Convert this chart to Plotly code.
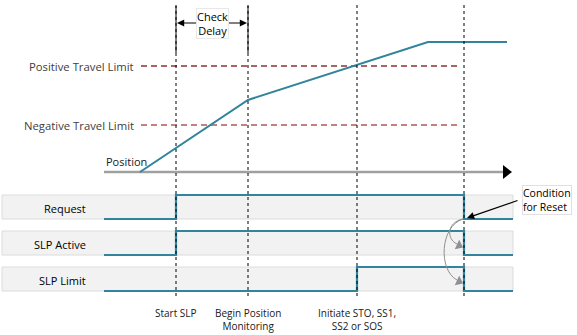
import plotly.graph_objects as go

# ---- data (diagram coordinates: x = time units, y = vertical position in the drawing) ----
event_times = [176, 248, 357, 464]
event_labels = ["Start SLP", "Begin Position<br>Monitoring", "Initiate STO, SS1,<br>SS2 or SOS", ""]

position_t = [140, 248, 428, 507]
position_v = [172, 100, 42, 42]

limit_names = ["Positive Travel Limit", "Negative Travel Limit"]
limit_levels = [66, 125]
limit_colors = ["#8A3331", "#B05A56"]

signal_names = ["Request", "SLP Active", "SLP Limit"]
signal_top = [195, 231, 267]
signal_times = [
    [104, 176, 176, 464, 464, 513],
    [104, 176, 176, 464, 464, 513],
    [104, 357, 357, 464, 464, 513],
]
signal_levels = [
    [0, 0, 1, 1, 0, 0],
    [0, 0, 1, 1, 0, 0],
    [0, 0, 1, 1, 0, 0],
]
band_height = 24

TEAL = "#31849B"
FONT = "Open Sans"

fig = go.Figure()
shapes = []
annotations = []

# signal bands
for top in signal_top:
    shapes.append(dict(type="rect", x0=2, x1=513, y0=top, y1=top + band_height,
                       fillcolor="#F2F2F2", line=dict(color="#DCDCDC", width=1), layer="below"))

# vertical dotted event lines
for t in event_times:
    shapes.append(dict(type="line", x0=t, x1=t, y0=5, y1=298,
                       line=dict(color="#000000", width=1, dash="dot")))
# solid check-delay brackets
for t in event_times[:2]:
    shapes.append(dict(type="line", x0=t, x1=t, y0=6, y1=53,
                       line=dict(color="#000000", width=1)))

# travel limits
for name, lv, col in zip(limit_names, limit_levels, limit_colors):
    fig.add_trace(go.Scatter(x=[141, 460], y=[lv, lv], mode="lines",
                             line=dict(color=col, width=1.3, dash="6px,4px"), hoverinfo="skip"))
    annotations.append(dict(x=136, y=lv, text=name, showarrow=False, xanchor="right",
                            yanchor="middle", font=dict(family=FONT, size=11.3, color="#404040")))

# time axis
fig.add_trace(go.Scatter(x=[104, 503], y=[172, 172], mode="lines",
                         line=dict(color="#A0A0A0", width=2.5), hoverinfo="skip"))
fig.add_trace(go.Scatter(x=[506], y=[172], mode="markers",
                         marker=dict(symbol="triangle-right", size=12, color="#000000"), hoverinfo="skip"))
annotations.append(dict(x=104, y=161, text="Position", showarrow=False, xanchor="left",
                        yanchor="middle", font=dict(family=FONT, size=11, color="#202020")))

# position trace
fig.add_trace(go.Scatter(x=position_t, y=position_v, mode="lines",
                         line=dict(color=TEAL, width=2), hoverinfo="skip"))

# signals
for name, top, ts, lv in zip(signal_names, signal_top, signal_times, signal_levels):
    ys = [top + band_height - v * band_height for v in lv]
    fig.add_trace(go.Scatter(x=ts, y=ys, mode="lines",
                             line=dict(color=TEAL, width=2.2), hoverinfo="skip"))
    annotations.append(dict(x=88, y=top + band_height / 2 + 1, text=name, showarrow=False,
                            xanchor="right", yanchor="middle",
                            font=dict(family=FONT, size=11, color="#000000")))

# event labels
for t, lab in zip(event_times, event_labels):
    if lab:
        annotations.append(dict(x=t, y=304, text=lab, showarrow=False, xanchor="center",
                                yanchor="top", font=dict(family=FONT, size=10, color="#202020")))

# check delay arrows
mid = (event_times[0] + event_times[1]) / 2
for end in event_times[:2]:
    annotations.append(dict(x=end + 1 if end == event_times[0] else end - 1, y=23,
                            ax=mid, ay=23, axref="x", ayref="y", xref="x", yref="y",
                            showarrow=True, arrowhead=2, arrowsize=1.2, arrowwidth=1.2,
                            arrowcolor="#000000", text=""))
annotations.append(dict(x=mid, y=23, text="Check<br>Delay", showarrow=False,
                        bgcolor="#FFFFFF", bordercolor="#E8E8E8", borderwidth=1, borderpad=0,
                        font=dict(family=FONT, size=11, color="#000000")))

# condition for reset
annotations.append(dict(x=467, y=218, ax=519, ay=200, axref="x", ayref="y",
                        showarrow=True, arrowhead=2, arrowsize=1.2, arrowwidth=1.2,
                        arrowcolor="#000000", text=""))
annotations.append(dict(x=522, y=200, text="Condition<br>for Reset", showarrow=False,
                        xanchor="left", yanchor="middle", align="left",
                        bgcolor="#FFFFFF", bordercolor="#E0E0E0", borderwidth=1, borderpad=0,
                        font=dict(family=FONT, size=10.5, color="#000000")))

# curved grey arrows
shapes.append(dict(type="path", path="M 463 219 C 447 222 446 239 457 244",
                   line=dict(color="#909090", width=1)))
shapes.append(dict(type="path", path="M 463 219 C 440 226 438 270 457 280",
                   line=dict(color="#909090", width=1)))
fig.add_trace(go.Scatter(x=[459, 459], y=[245.5, 281.5], mode="markers",
                         marker=dict(symbol="triangle-right", size=9, color="#909090", angle=[25, 25]),
                         hoverinfo="skip"))

fig.update_layout(
    width=577, height=335, margin=dict(l=0, r=0, t=0, b=0),
    plot_bgcolor="#FFFFFF", paper_bgcolor="#FFFFFF", showlegend=False,
    xaxis=dict(range=[0, 577], visible=False, fixedrange=True),
    yaxis=dict(range=[335, 0], visible=False, fixedrange=True),
    shapes=shapes, annotations=annotations,
)

fig.write_html("out.html")
